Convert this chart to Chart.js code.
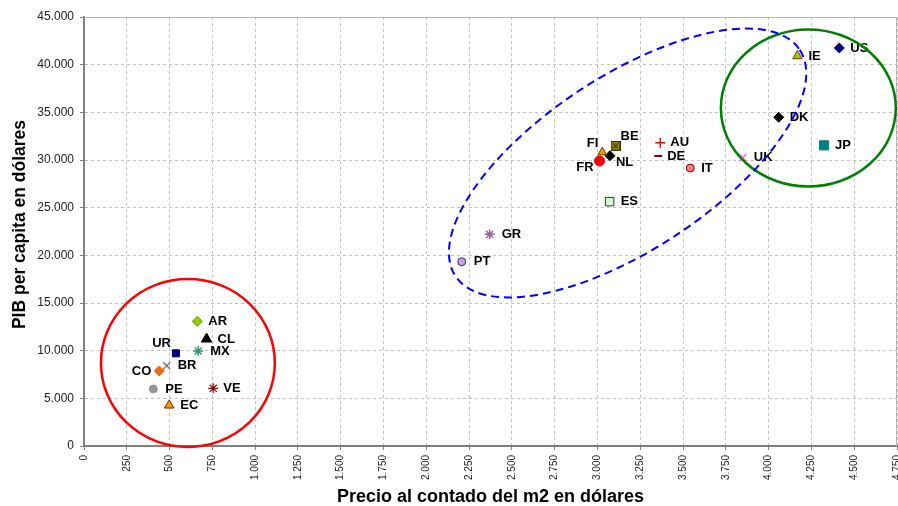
<!DOCTYPE html>
<html>
<head>
<meta charset="utf-8">
<script src="https://cdn.jsdelivr.net/npm/chart.js@4.4.0/dist/chart.umd.min.js"></script>
<style>
html, body { margin: 0; padding: 0; background: #fff; }
#wrap { width: 898px; height: 506px; }
</style>
</head>
<body>
<div id="wrap"><canvas id="myChart" width="898" height="506"></canvas></div>
<script>
// data
const countries = ['US','IE','DK','JP','UK','BE','FI','FR','NL','AU','DE','IT','ES','GR','PT','AR','CL','MX','UR','BR','CO','PE','VE','EC'];
const precioM2 = [4413,4168,4059,4324,3849,3106,3028,3012,3073,3367,3355,3542,3071,2370,2207,662,716,667,537,483,440,405,755,498];
const pibPerCapita = [41750,40910,34480,31540,30245,31470,30810,29900,30450,31820,30420,29160,25630,22200,19330,13080,11220,9965,9720,8425,7870,5980,6050,4270];
const xRange = [0, 4750, 250];
const yRange = [0, 45000, 5000];
const xTitle = 'Precio al contado del m2 en dólares';
const yTitle = 'PIB per capita en dólares';

// square with an x inside, like the BE marker
function boxedCross(size, fill, line) {
  const c = document.createElement('canvas');
  c.width = size; c.height = size;
  const g = c.getContext('2d');
  g.fillStyle = fill;
  g.fillRect(0, 0, size, size);
  g.strokeStyle = line;
  g.lineWidth = 1;
  g.strokeRect(0.5, 0.5, size - 1, size - 1);
  g.beginPath();
  g.moveTo(2.5, 2.5); g.lineTo(size - 2.5, size - 2.5);
  g.moveTo(size - 2.5, 2.5); g.lineTo(2.5, size - 2.5);
  g.stroke();
  return c;
}

// marker looks, one per country
const markers = {
  US: {s:'rectRot', r:5, bg:'#000080', bd:'#000080'},
  IE: {s:'triangle', r:5.5, bg:'#99CC00', bd:'#993300'},
  DK: {s:'rectRot', r:5, bg:'#000000', bd:'#000000'},
  JP: {s:'rect', r:6.5, bg:'#008080', bd:'#008080'},
  UK: {s:'crossRot', r:5, bg:'#FF66FF', bd:'#FF66FF', w:1.5},
  BE: {s:boxedCross(10, '#8A7A00', '#333300'), r:5, bg:'#808000', bd:'#333300'},
  FI: {s:'triangle', r:5, bg:'#FF9900', bd:'#663300'},
  FR: {s:'circle', r:5, bg:'#FF0000', bd:'#CC0000'},
  NL: {s:'rectRot', r:5, bg:'#000000', bd:'#000000'},
  AU: {s:'cross', r:5, bg:'#FF0000', bd:'#FF0000', w:1.5},
  DE: {s:'line', r:4, bg:'#990000', bd:'#990000', w:2},
  IT: {s:'circle', r:4, bg:'#FF8080', bd:'#800000'},
  ES: {s:'rect', r:6, bg:'#CCFFCC', bd:'#333333'},
  GR: {s:'star', r:5, bg:'#996699', bd:'#996699', w:1.5},
  PT: {s:'circle', r:4, bg:'#CC99FF', bd:'#333333'},
  AR: {s:'rectRot', r:5, bg:'#99CC00', bd:'#669900'},
  CL: {s:'triangle', r:6, bg:'#000000', bd:'#000000'},
  MX: {s:'star', r:5, bg:'#339966', bd:'#339966', w:1.5},
  UR: {s:'rect', r:5, bg:'#000080', bd:'#000080'},
  BR: {s:'crossRot', r:5, bg:'#808080', bd:'#808080', w:1.5},
  CO: {s:'rectRot', r:5, bg:'#FF6600', bd:'#CC6633'},
  PE: {s:'circle', r:4, bg:'#969696', bd:'#969696'},
  VE: {s:'star', r:5, bg:'#990000', bd:'#990000', w:1.2},
  EC: {s:'triangle', r:5.5, bg:'#FF9900', bd:'#663300'}
};

// where each label sits next to its marker: [dx, dy, align]
const labelPos = {
  US:[11,0,'left'], IE:[11,0,'left'], DK:[11,0,'left'], JP:[11,0,'left'], UK:[11,0,'left'],
  BE:[5,-10,'left'], FI:[-4,-9,'right'], FR:[-6,6,'right'], NL:[6,7,'left'],
  AU:[10,0,'left'], DE:[9,0,'left'], IT:[11,0,'left'], ES:[11,0,'left'],
  GR:[12,0,'left'], PT:[12,0,'left'], AR:[11,0,'left'], CL:[11,0,'left'],
  MX:[12,0,'left'], UR:[-5,-10,'right'], BR:[11,0,'left'], CO:[-8,0,'right'],
  PE:[12,0,'left'], VE:[10,0,'left'], EC:[11,0,'left']
};

// ellipses drawn over the plot (centres in data units)
const rings = [
  {cx:607, cy:8706, rx:508, ry:8811, color:'#FF0000', width:2.5, dash:[]},
  {cx:4232, cy:35455, rx:511, ry:8235, color:'#008000', width:2.5, dash:[]},
  {cx:3176, cy:29686, pa:206, pb:87, rot:-33.3, color:'#0000FF', width:2, dash:[8,5]}
];

function fmt(v) {
  return String(v).replace(/\B(?=(\d{3})+(?!\d))/g, '.');
}

const datasets = countries.map(function(c, i) {
  const m = markers[c];
  return {
    label: c,
    data: [{x: precioM2[i], y: pibPerCapita[i]}],
    pointStyle: m.s,
    pointRadius: m.r,
    backgroundColor: m.bg,
    borderColor: m.bd,
    pointBorderWidth: m.w || 1,
    showLine: false
  };
});

const plotFrame = {
  id: 'plotFrame',
  beforeDatasetsDraw(chart) {
    const a = chart.chartArea, ctx = chart.ctx;
    ctx.save();
    ctx.strokeStyle = '#b4b4b4';
    ctx.lineWidth = 1;
    ctx.beginPath();
    ctx.moveTo(a.left, a.top + 0.5);
    ctx.lineTo(a.right - 0.5, a.top + 0.5);
    ctx.lineTo(a.right - 0.5, a.bottom);
    ctx.stroke();
    ctx.restore();
  },
  afterDraw(chart) {
    // y axis title, a bit above the middle of the plot as in the original
    const a = chart.chartArea, ctx = chart.ctx;
    ctx.save();
    ctx.translate(20, (a.top + a.bottom) / 2 - 7);
    ctx.rotate(-Math.PI / 2);
    ctx.font = 'bold 17.5px "Liberation Sans", Arial, sans-serif';
    ctx.fillStyle = '#000';
    ctx.textAlign = 'center';
    ctx.textBaseline = 'middle';
    ctx.fillText(yTitle, 0, 0);
    ctx.restore();
  }
};

const pointLabels = {
  id: 'pointLabels',
  afterDatasetsDraw(chart) {
    const ctx = chart.ctx;
    ctx.save();
    ctx.font = 'bold 13px "Liberation Sans", Arial, sans-serif';
    ctx.fillStyle = '#000';
    ctx.textBaseline = 'middle';
    chart.data.datasets.forEach(function(ds, i) {
      const el = chart.getDatasetMeta(i).data[0];
      const p = labelPos[ds.label];
      ctx.textAlign = p[2];
      ctx.fillText(ds.label, el.x + p[0], el.y + p[1]);
    });
    ctx.restore();
  }
};

const ringPlugin = {
  id: 'rings',
  afterDraw(chart) {
    const ctx = chart.ctx, xs = chart.scales.x, ys = chart.scales.y;
    ctx.save();
    rings.forEach(function(r) {
      const cx = xs.getPixelForValue(r.cx), cy = ys.getPixelForValue(r.cy);
      let a, b, rot = 0;
      if (r.rx !== undefined) {
        a = Math.abs(xs.getPixelForValue(r.cx + r.rx) - cx);
        b = Math.abs(ys.getPixelForValue(r.cy + r.ry) - cy);
      } else {
        a = r.pa; b = r.pb; rot = r.rot * Math.PI / 180;
      }
      ctx.strokeStyle = r.color;
      ctx.lineWidth = r.width;
      ctx.setLineDash(r.dash);
      ctx.beginPath();
      ctx.ellipse(cx, cy, a, b, rot, 0, Math.PI * 2);
      ctx.stroke();
    });
    ctx.restore();
  }
};

const ctx = document.getElementById('myChart');
const myChart = new Chart(ctx, {
  type: 'scatter',
  data: { datasets: datasets },
  plugins: [plotFrame, pointLabels, ringPlugin],
  options: {
    responsive: false,
    animation: false,
    layout: { autoPadding: false, padding: { top: 17, right: 1, left: 0, bottom: 0 } },
    plugins: { legend: { display: false }, tooltip: { enabled: false } },
    scales: {
      x: {
        type: 'linear',
        min: xRange[0], max: xRange[1],
        afterFit: function(s) { s.height = 60; s.paddingLeft = 0; s.paddingRight = 0; },
        ticks: {
          stepSize: xRange[2],
          minRotation: 90, maxRotation: 90,
          autoSkip: false,
          padding: 5,
          color: '#222',
          font: { family: '"Liberation Sans", Arial, sans-serif', size: 10 },
          callback: function(v) { return fmt(v); }
        },
        grid: {
          color: '#c0c0c0',
          tickColor: '#808080',
          tickBorderDash: [],
          tickLength: 4
        },
        border: { color: '#808080', width: 2, dash: [3, 3] },
        title: {
          display: true, text: xTitle, color: '#000',
          font: { family: '"Liberation Sans", Arial, sans-serif', size: 18, weight: 'bold', lineHeight: 1 },
          padding: { top: 0, bottom: 0 }
        }
      },
      y: {
        type: 'linear',
        min: yRange[0], max: yRange[1],
        afterFit: function(s) { s.width = 84; s.paddingTop = 0; s.paddingBottom = 0; },
        ticks: {
          stepSize: yRange[2],
          padding: 6,
          color: '#222',
          font: { family: '"Liberation Sans", Arial, sans-serif', size: 12 },
          callback: function(v) { return fmt(v); }
        },
        grid: {
          color: '#c0c0c0',
          tickColor: '#808080',
          tickBorderDash: [],
          tickLength: 4
        },
        border: { color: '#808080', width: 2, dash: [3, 3] },
        title: { display: false }
      }
    }
  }
});
</script>
</body>
</html>
